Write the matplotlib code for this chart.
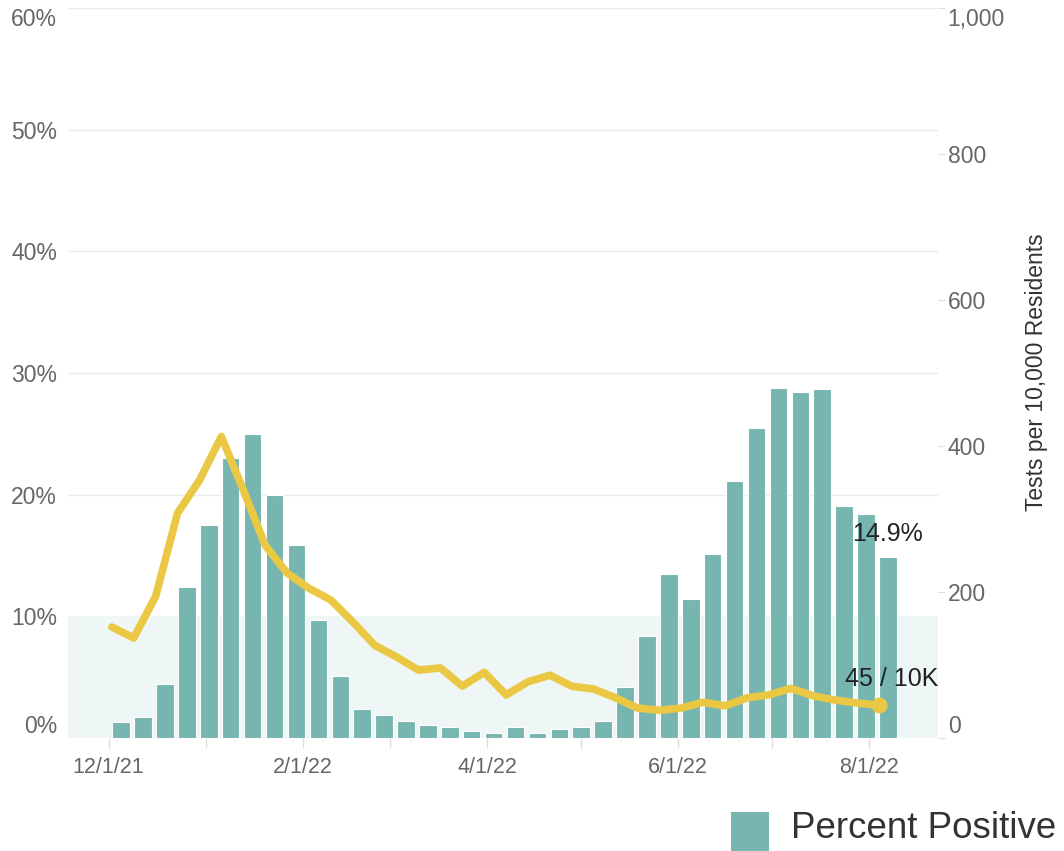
"""Weekly percent positive (bars) with tests per 10K residents (line)."""
import matplotlib.pyplot as plt
import matplotlib.dates as mdates
import pandas as pd
from matplotlib.patches import Rectangle
from matplotlib.ticker import FuncFormatter

plt.rcParams['font.family']=['Liberation Sans','DejaVu Sans']

# weekly bins (x categories)
bar_weeks=pd.date_range('2021-12-05',periods=36,freq='7D')
pct_positive=[1.3,1.7,4.4,12.4,17.5,23.0,25.0,20.0,15.9,9.7,5.1,2.4,1.9,1.4,1.1,0.9,0.6,0.4,
              0.9,0.4,0.7,0.9,1.4,4.2,8.4,13.5,11.4,15.1,21.1,25.5,28.8,28.4,28.7,19.1,18.4,14.9]
line_weeks=pd.date_range('2021-12-02',periods=36,freq='7D')
tests_per_10k=[152,137,194,308,353,413,340,264,226,205,189,159,127,111,93,96,71,90,
               59,77,86,71,67,55,41,38,41,49,44,55,59,68,58,52,48,45]
pct_ticks=[0,10,20,30,40,50,60]
test_ticks=[0,200,400,600,800,1000]
label_months=[12,2,4,6,8]

BAR='#77b6b0';LINE='#ebc843';GRID='#ebebeb';TXT='#666666'
W,H=1064,851

fig=plt.figure(figsize=(W/100,H/100),dpi=100)
ax=fig.add_axes([68/W,113/H,870/W,730/H])
ax.set_ylim(0,60);ax.set_xlim(pd.Timestamp('2021-11-18'),pd.Timestamp('2022-08-23'))
ax.axhspan(0,10,color='#eef7f6',lw=0,zorder=0)
for y in pct_ticks[2:]:ax.axhline(y,color=GRID,lw=1,zorder=0)
ax.bar(bar_weeks,pct_positive,width=5.6,color=BAR,edgecolor='white',lw=0.8,zorder=2)
for s in ax.spines.values():s.set_visible(False)

ax.xaxis.set_major_locator(mdates.MonthLocator(bymonth=label_months))
ax.xaxis.set_minor_locator(mdates.MonthLocator())
ax.xaxis.set_major_formatter(FuncFormatter(lambda v,_:(lambda d:f'{d.month}/{d.day}/{d:%y}')(mdates.num2date(v))))
ax.tick_params(axis='x',which='both',length=7,color='#dddddd',width=1,labelsize=15.5,labelcolor=TXT,pad=7)
ax.set_yticks(pct_ticks);ax.set_yticklabels([f'{v}%' for v in pct_ticks])
ax.tick_params(axis='y',length=0,labelsize=16.5,labelcolor=TXT,pad=8)
ticks=ax.yaxis.get_major_ticks();ticks[0].label1.set_va('bottom');ticks[-1].label1.set_va('top')

ax2=ax.twinx();ax2.set_ylim(0,1000)
for s in ax2.spines.values():s.set_visible(False)
ax2.set_yticks(test_ticks);ax2.set_yticklabels([f'{v:,}' for v in test_ticks])
ax2.tick_params(axis='y',length=5,color='#dddddd',labelsize=16.5,labelcolor=TXT,pad=2)
ticks=ax2.yaxis.get_major_ticks();ticks[0].label2.set_va('bottom');ticks[-1].label2.set_va('top')
ax2.plot(line_weeks,tests_per_10k,color=LINE,lw=5.5,solid_capstyle='round',solid_joinstyle='round',zorder=3)
ax2.plot(line_weeks[-1],tests_per_10k[-1],'o',color=LINE,ms=10.5,zorder=4)

ax.annotate(f'{pct_positive[-1]:.1f}%',xy=(bar_weeks[-1],pct_positive[-1]),xytext=(-25.5,16),
            textcoords='offset points',ha='left',va='center',fontsize=18,color='#222222',zorder=5)
ax2.annotate(f'{tests_per_10k[-1]} / 10K',xy=(line_weeks[-1],tests_per_10k[-1]),xytext=(-24,19),
             textcoords='offset points',ha='left',va='center',fontsize=18,color='#222222',zorder=5)

fig.text(1037/W,1-372/H,'Tests per 10,000 Residents',rotation=90,ha='center',va='center',fontsize=16.5,color='#333333')
fig.add_artist(Rectangle((731/W,0),38/W,39/H,transform=fig.transFigure,color=BAR,lw=0))
fig.text(791/W,1-829/H,'Percent Positive',ha='left',va='center',fontsize=26.5,color='#333333')

fig.savefig('out.png',dpi=100)
